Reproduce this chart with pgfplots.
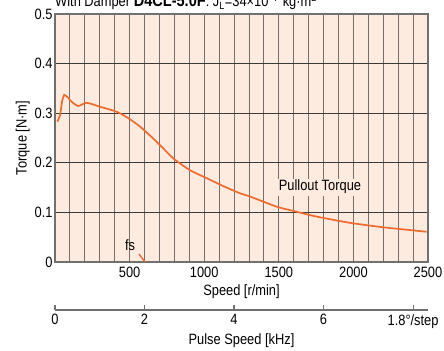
\documentclass[border=0pt]{standalone}
\usepackage{fontspec}
\setmainfont{Liberation Sans}[FakeStretch=0.86]
\usepackage{pgfplots}
\pgfplotsset{compat=1.18}
\definecolor{bgpeach}{HTML}{FDEBDF}
\definecolor{curveor}{HTML}{F26A2B}
\definecolor{vgrid}{HTML}{7A6F68}
\definecolor{hgrid}{HTML}{3A3A3A}
\definecolor{frame}{HTML}{707070}
\begin{document}
\begin{tikzpicture}
\newcommand{\lbl}{\fontsize{15}{17}\selectfont}
\begin{axis}[
  at={(0,0)}, anchor=south west,
  scale only axis, width=373bp, height=248bp,
  xmin=0, xmax=2500, ymin=0, ymax=0.5,
  axis background/.style={fill=bgpeach},
  axis line style={draw=frame, line width=1.1pt},
  xtick={0,100,...,2500},
  xticklabels={,,,,,500,,,,,1000,,,,,1500,,,,,2000,,,,,2500},
  ytick={0,0.1,0.2,0.3,0.4,0.5},
  yticklabels={0,0.1,0.2,0.3,0.4,0.5},
  major tick length=0pt,
  xmajorgrids, ymajorgrids,
  major x grid style={draw=vgrid, line width=0.9pt},
  major y grid style={draw=hgrid, line width=0.9pt},
  tick label style={font=\lbl},
  xticklabel style={yshift=-2bp},
  yticklabel style={xshift=1bp},
  xlabel={Speed [r/min]},
  ylabel={Torque [N·m]},
  label style={font=\lbl},
  xlabel style={yshift=0bp},
  ylabel style={yshift=-2bp},
  clip=false,
]
\addplot[color=curveor, line width=1.7pt, smooth, tension=0.4] coordinates {
  (15,0.283) (34,0.296) (48,0.325) (62,0.337) (85,0.332) (112,0.323)
  (156,0.3145) (212,0.321) (302,0.313) (413,0.303) (491,0.290)
  (570,0.273) (681,0.2425) (793,0.209) (905,0.185) (1017,0.169)
  (1128,0.153) (1240,0.1385) (1307,0.132) (1486,0.1115) (1597,0.103)
  (1754,0.0915) (1977,0.079) (2200,0.070) (2491,0.061)
};
\addplot[color=curveor, line width=1.4pt] coordinates {(563,0.016) (603,0)};
\node[font=\lbl, fill=bgpeach, inner sep=1.5bp] at (axis cs:1776,0.151) {Pullout Torque};
\node[font=\lbl, inner sep=0pt] at (axis cs:503,0.033) {fs};
\end{axis}
\node[anchor=base west, font=\lbl, inner sep=0pt] at (0,255bp)
  {With Damper {\fontsize{17}{19}\selectfont\bfseries D4CL-5.0F}: J\textsubscript{L}=34×10\textsuperscript{−7} kg·m\textsuperscript{2}};
\begin{axis}[
  at={(0,-48bp)}, anchor=south west,
  scale only axis, width=373bp, height=10bp,
  xmin=0, xmax=8.3333, ymin=0, ymax=1,
  hide y axis,
  axis x line*=bottom,
  axis line style={draw=frame, line width=1.1pt},
  xtick={0,2,4,6,8},
  xticklabels={0,2,4,6,1.8°/step},
  tick align=inside,
  major tick length=5bp,
  tick style={draw=frame, line width=1.1pt},
  tick label style={font=\lbl},
  xticklabel style={yshift=-1bp},
  xlabel={Pulse Speed [kHz]},
  label style={font=\lbl},
  xlabel style={yshift=2bp},
]
\addplot[draw=none] coordinates {(0,0) (8.3333,0)};
\end{axis}
\pgfresetboundingbox
\useasboundingbox (-55bp,-89bp) rectangle (389bp,262bp);
\end{tikzpicture}
\end{document}
